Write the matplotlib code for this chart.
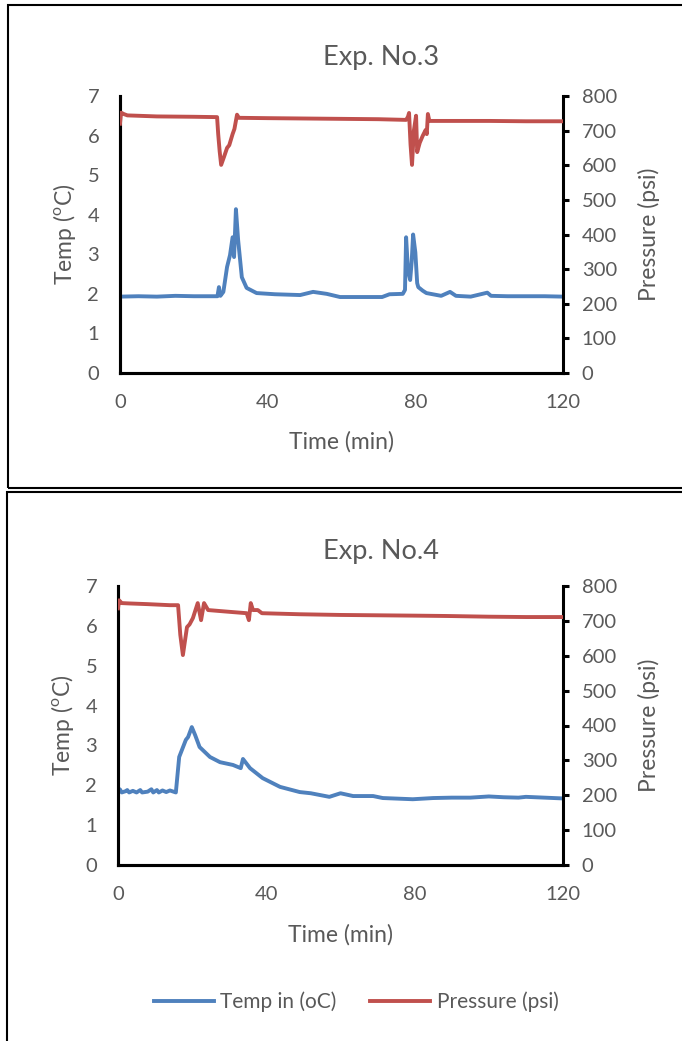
import matplotlib
matplotlib.use("Agg")
import matplotlib.pyplot as plt
from matplotlib.patches import Rectangle
from matplotlib.lines import Line2D

plt.rcParams['font.family'] = ['Lato', 'DejaVu Sans']
plt.rcParams['mathtext.fontset'] = 'custom'
plt.rcParams['mathtext.rm'] = 'Lato'

BLUE = '#4F81BD'
RED = '#C0504D'
GREY = '#595959'

# Exp. No.3 - temperature
t3_temp = [0, 5, 10, 15, 20, 25, 26.4, 26.8, 27.2, 28.0, 28.4, 29.0, 29.8, 30.5, 30.9,
           31.4, 32.0, 33.0, 34.3, 37, 42, 48.8, 52.3, 56, 59.6, 65, 71, 73, 76.6, 77.2,
           77.5, 78.0, 78.6, 79.0, 79.4, 80.0, 80.5, 80.8, 82, 83, 87, 89.4, 91, 95,
           99.5, 100.5, 105, 110, 115, 120]
temp3 = [1.93, 1.94, 1.93, 1.95, 1.94, 1.94, 1.94, 2.17, 1.95, 2.05, 2.3, 2.68, 2.98, 3.43, 2.93,
         4.14, 3.36, 2.42, 2.15, 2.02, 1.99, 1.97, 2.05, 2.0, 1.92, 1.92, 1.92, 1.99, 2.0, 2.1,
         3.43, 2.6, 2.35, 2.8, 3.5, 3.05, 2.27, 2.17, 2.08, 2.02, 1.95, 2.05, 1.95, 1.93,
         2.03, 1.95, 1.94, 1.94, 1.94, 1.93]

# Exp. No.3 - pressure
t3_pres = [0, 0.3, 1.0, 2, 10, 20, 26.3, 26.6, 27.0, 27.4, 28.2, 29.0, 29.6, 30.5, 31.0,
           31.7, 32.2, 40, 50, 60, 70, 77.5, 78.0, 78.3, 78.7, 79.1, 79.6, 80.2, 80.5, 81.2,
           82.0, 82.8, 83.1, 83.4, 83.8, 90, 100, 110, 120]
pres3 = [720, 752, 748, 744, 741, 740, 739, 690, 640, 601, 625, 650, 658, 690, 705,
         746, 737, 736, 735, 734, 733, 731, 740, 751, 660, 601, 700, 743, 638, 665,
         685, 702, 690, 748, 728, 728, 728, 727, 727]

# Exp. No.4 - temperature
t4_temp = [0, 0.5, 1, 2, 2.5, 3, 4, 5, 6, 6.5, 8, 9, 9.5, 10.5, 11, 12, 13, 14, 15.6,
           16.5, 18.3, 18.9, 19.9, 20.8, 22, 24.8, 27.5, 31, 33.1, 33.7, 35.6, 39, 43.7,
           49, 52, 57, 60, 63.4, 68.8, 71.4, 79.5, 85, 90, 95, 100, 104, 108, 110, 115, 120]
temp4 = [1.82, 1.9, 1.82, 1.85, 1.88, 1.82, 1.86, 1.82, 1.88, 1.82, 1.84, 1.9, 1.82, 1.88,
         1.82, 1.87, 1.83, 1.87, 1.82, 2.71, 3.14, 3.21, 3.46, 3.26, 2.96, 2.71, 2.58, 2.51,
         2.43, 2.66, 2.43, 2.18, 1.96, 1.83, 1.8, 1.71, 1.8, 1.73, 1.73, 1.68, 1.65, 1.68,
         1.69, 1.69, 1.72, 1.7, 1.69, 1.71, 1.69, 1.67]

# Exp. No.4 - pressure
t4_pres = [0, 0.3, 1, 3, 8, 14, 16.2, 16.8, 17.5, 18.6, 19.3, 20.2, 21.5, 22.4, 23.2,
           24.3, 30, 34.7, 35.3, 35.8, 36.4, 37.7, 38.8, 49, 60, 70, 80, 88.7, 100, 110, 120]
pres4 = [736, 759, 751, 750, 748, 745, 745, 660, 602, 682, 690, 708, 751, 702, 751,
         731, 726, 722, 702, 751, 731, 731, 722, 719, 717, 716, 715, 714, 712, 711, 711]

W, H = 682, 1041
fig = plt.figure(figsize=(W / 100, H / 100), dpi=100)

# chart-area borders
fig.patches.append(Rectangle((8 / W, 1 - 488 / H), 1.2, (488 - 5) / H, transform=fig.transFigure,
                             fill=False, edgecolor='black', linewidth=1.5))
fig.patches.append(Rectangle((7 / W, -0.2), 1.2, 0.2 + 1 - 492 / H, transform=fig.transFigure,
                             fill=False, edgecolor='black', linewidth=1.5))


def panel(rect, title, title_y, tt, temp, tp, pres):
    ax = fig.add_axes(rect)
    ax2 = ax.twinx()
    ax.plot(tt, temp, color=BLUE, linewidth=2.8, solid_joinstyle='round', zorder=3)
    ax2.plot(tp, pres, color=RED, linewidth=2.8, solid_joinstyle='round', zorder=3)
    ax.set_xlim(0, 120)
    ax.set_ylim(0, 7)
    ax2.set_ylim(0, 800)
    ax.set_xticks([0, 40, 80, 120])
    ax.set_yticks(range(0, 8))
    ax2.set_yticks(range(0, 801, 100))
    for a in (ax, ax2):
        for s in a.spines.values():
            s.set_linewidth(2.2)
            s.set_color('black')
        a.spines['top'].set_visible(False)
    ax.spines['right'].set_visible(False)
    ax.tick_params(axis='both', length=0, labelsize=14.5, labelcolor=GREY)
    ax.tick_params(axis='y', pad=15)
    ax.tick_params(axis='x', pad=15)
    ax2.tick_params(axis='y', direction='out', length=4.5, width=2.2, pad=9,
                    labelsize=14.5, labelcolor=GREY)
    ax.set_xlabel('Time (min)', fontsize=16.5, color=GREY)
    ax.set_ylabel(r'Temp ($^{\mathrm{o}}$C)', fontsize=16.5, color=GREY)
    ax2.set_ylabel('Pressure (psi)', fontsize=16.5, color=GREY)
    ax.xaxis.set_label_coords(0.5, -0.21)
    ax.yaxis.set_label_coords(-0.095, 0.5)
    ax2.yaxis.set_label_coords(1.169, 0.5)
    fig.text(381 / W, 1 - title_y / H, title, fontsize=19.5, color=GREY,
             ha='center', va='center')
    return ax


panel([120 / W, 1 - 373 / H, 443 / W, 277 / H], 'Exp. No.3', 57, t3_temp, temp3, t3_pres, pres3)
panel([118 / W, 1 - 865 / H, 445 / W, 279 / H], 'Exp. No.4', 551, t4_temp, temp4, t4_pres, pres4)

handles = [Line2D([], [], color=BLUE, linewidth=2.8), Line2D([], [], color=RED, linewidth=2.8)]
leg = fig.legend(handles, ['Temp in (oC)', 'Pressure (psi)'], loc='center',
                 bbox_to_anchor=(356 / W, 1 - 1002 / H), ncol=2, frameon=False,
                 fontsize=15, handlelength=2.9, handletextpad=0.3, columnspacing=1.6)
for txt in leg.get_texts():
    txt.set_color(GREY)

fig.savefig('out.png', dpi=100)
